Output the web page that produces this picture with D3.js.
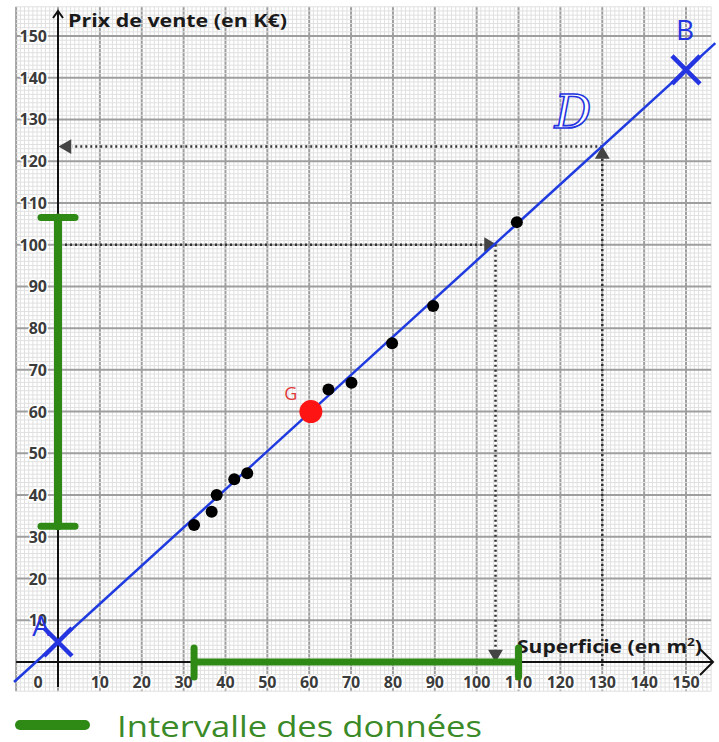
<!DOCTYPE html>
<html lang="fr">
  <head>
    <meta charset="UTF-8" />
    <title>Prix de vente en fonction de la superficie</title>
    <script src="https://d3js.org/d3.v7.min.js"></script>
    <style>
      body {
        margin: 0;
        background: #fff;
        font-family: 'Open Sans', sans-serif;
      }
      .tick-label {
        font-size: 16px;
        font-weight: 700;
        fill: #3b3b3b;
        stroke: #fff;
        stroke-width: 3px;
        paint-order: stroke;
      }
      .axis-title {
        font-size: 17px;
        font-weight: 700;
        fill: #1a1a1a;
      }
      .dotted {
        stroke: #333;
        stroke-width: 2.5px;
        stroke-dasharray: 2, 3;
        fill: none;
      }
    </style>
  </head>
  <body>
    <svg width="719" height="742"></svg>
    <script>
      // nuage de points (superficie en m2, prix en K€)
      const superficie = [32.5, 36.7, 37.9, 42.1, 45.2, 64.6, 70.1, 79.8, 89.6, 109.6];
      const prix = [32.8, 36.0, 40.0, 43.8, 45.2, 65.3, 66.9, 76.4, 85.3, 105.4];

      const pointG = [60.4, 60];
      const pointA = [0, 4.8];
      const pointB = [150, 141.9];

      // intervalles des données
      const intervalX = [32.5, 110];
      const intervalY = [32.5, 106.5];

      // lectures graphiques
      const lecture1 = [104.5, 100]; // prix 100 -> superficie
      const lecture2 = [130, 123.5]; // superficie 130 -> prix

      const ticks = d3.range(10, 151, 10);

      const svg = d3.select('svg');
      const x = d3.scaleLinear().domain([0, 150]).range([58, 686]);
      const y = d3.scaleLinear().domain([0, 150]).range([662, 36]);

      const gridX = [-10, 156];
      const gridY = [-7, 157];

      // quadrillage
      const grid = svg.append('g');
      grid.selectAll('.minx')
        .data(d3.range(gridX[0], gridX[1] + 1, 1))
        .join('line')
        .attr('x1', (d) => x(d)).attr('x2', (d) => x(d))
        .attr('y1', y(gridY[0])).attr('y2', y(gridY[1]))
        .attr('stroke', (d) => (d % 10 === 0 ? '#9e9e9e' : '#e0e0e0'))
        .attr('stroke-width', (d) => (d % 10 === 0 ? 2 : 1));
      grid.selectAll('.miny')
        .data(d3.range(gridY[0], gridY[1] + 1, 1))
        .join('line')
        .attr('y1', (d) => y(d)).attr('y2', (d) => y(d))
        .attr('x1', x(gridX[0])).attr('x2', x(gridX[1]))
        .attr('stroke', (d) => (d % 10 === 0 ? '#9e9e9e' : '#e0e0e0'))
        .attr('stroke-width', (d) => (d % 10 === 0 ? 2 : 1));

      // axes
      const ax = svg.append('g').attr('stroke', '#111').attr('stroke-width', 2).attr('fill', 'none');
      ax.append('line').attr('x1', x(-10)).attr('x2', 713).attr('y1', y(0)).attr('y2', y(0));
      ax.append('path').attr('d', `M700,${y(0) - 13}L713,${y(0)}L700,${y(0) + 13}`);
      ax.append('line').attr('x1', x(0)).attr('x2', x(0)).attr('y1', y(-6)).attr('y2', 12);
      ax.append('path').attr('d', `M${x(0) - 5},18L${x(0)},11L${x(0) + 5},18`);

      // graduations
      svg.append('g').selectAll('text')
        .data(ticks)
        .join('text')
        .attr('class', 'tick-label')
        .attr('x', (d) => x(d))
        .attr('y', 688)
        .attr('text-anchor', 'middle')
        .text((d) => d);
      svg.append('g').selectAll('text')
        .data(ticks)
        .join('text')
        .attr('class', 'tick-label')
        .attr('x', 47)
        .attr('y', (d) => y(d) + 6)
        .attr('text-anchor', 'end')
        .text((d) => d);
      svg.append('text').attr('class', 'tick-label')
        .attr('x', 38).attr('y', 688).attr('text-anchor', 'middle').text('0');

      svg.append('text').attr('class', 'axis-title')
        .attr('x', 68).attr('y', 27)
        .attr('font-size', 18)
        .attr('textLength', 219).attr('lengthAdjust', 'spacingAndGlyphs')
        .text('Prix de vente (en K€)');
      const sup = svg.append('text').attr('class', 'axis-title')
        .attr('x', 517).attr('y', 653)
        .attr('textLength', 185).attr('lengthAdjust', 'spacingAndGlyphs');
      sup.append('tspan').text('Superficie (en m');
      sup.append('tspan').attr('dy', -7).attr('font-size', 11).text('2');
      sup.append('tspan').attr('dy', 7).text(')');

      // lectures en pointillés
      const tri = d3.symbol().type(d3.symbolTriangle).size(95);
      const lec = svg.append('g');
      lec.append('line').attr('class', 'dotted')
        .attr('x1', x(0) + 2).attr('x2', x(lecture1[0]) - 12)
        .attr('y1', y(lecture1[1])).attr('y2', y(lecture1[1]));
      lec.append('path').attr('d', tri).attr('fill', '#444')
        .attr('transform', `translate(${x(lecture1[0]) - 7},${y(lecture1[1])}) rotate(90)`);
      lec.append('line').attr('class', 'dotted')
        .attr('x1', x(lecture1[0])).attr('x2', x(lecture1[0]))
        .attr('y1', y(lecture1[1])).attr('y2', y(0) - 12);
      lec.append('path').attr('d', tri).attr('fill', '#444')
        .attr('transform', `translate(${x(lecture1[0])},${y(0) - 8}) rotate(180)`);

      lec.append('line').attr('class', 'dotted')
        .attr('x1', x(lecture2[0])).attr('x2', x(lecture2[0]))
        .attr('y1', y(0) + 4).attr('y2', y(lecture2[1]) + 12);
      lec.append('path').attr('d', tri).attr('fill', '#444')
        .attr('transform', `translate(${x(lecture2[0])},${y(lecture2[1]) + 8})`);
      lec.append('line').attr('class', 'dotted')
        .attr('x1', x(lecture2[0])).attr('x2', x(0) + 14)
        .attr('y1', y(lecture2[1])).attr('y2', y(lecture2[1]));
      lec.append('path').attr('d', tri).attr('fill', '#444')
        .attr('transform', `translate(${x(0) + 9},${y(lecture2[1])}) rotate(-90)`);

      // intervalles des données (vert)
      const green = '#2e8a14';
      const iv = svg.append('g').attr('stroke', green).attr('stroke-linecap', 'round');
      iv.append('line').attr('stroke-width', 8)
        .attr('x1', x(0)).attr('x2', x(0))
        .attr('y1', y(intervalY[0])).attr('y2', y(intervalY[1]));
      intervalY.forEach((v) => {
        iv.append('line').attr('stroke-width', 7)
          .attr('x1', x(0) - 17).attr('x2', x(0) + 17)
          .attr('y1', y(v)).attr('y2', y(v));
      });
      iv.append('line').attr('stroke-width', 7)
        .attr('x1', x(intervalX[0])).attr('x2', x(intervalX[1]))
        .attr('y1', y(0)).attr('y2', y(0));
      intervalX.forEach((v) => {
        iv.append('line').attr('stroke-width', 7)
          .attr('x1', x(v)).attr('x2', x(v))
          .attr('y1', y(0) - 14).attr('y2', y(0) + 15);
      });

      // droite D passant par A et B
      const slope = (pointB[1] - pointA[1]) / (pointB[0] - pointA[0]);
      const lineEnds = [-10.5, 157].map((v) => [v, pointA[1] + slope * v]);
      svg.append('line')
        .attr('x1', x(lineEnds[0][0])).attr('y1', y(lineEnds[0][1]))
        .attr('x2', x(lineEnds[1][0])).attr('y2', y(lineEnds[1][1]))
        .attr('stroke', '#1f3be0').attr('stroke-width', 2.5);

      // nuage de points
      svg.append('g').selectAll('circle')
        .data(superficie.map((s, i) => [s, prix[i]]))
        .join('circle')
        .attr('cx', (d) => x(d[0]))
        .attr('cy', (d) => y(d[1]))
        .attr('r', 6)
        .attr('fill', '#000');

      // point moyen G
      svg.append('circle')
        .attr('cx', x(pointG[0])).attr('cy', y(pointG[1]))
        .attr('r', 11.5).attr('fill', '#ff1414');
      svg.append('text')
        .attr('x', x(pointG[0]) - 20).attr('y', y(pointG[1]) - 12)
        .attr('text-anchor', 'middle')
        .attr('font-size', 18).attr('fill', '#e03a3a')
        .text('G');

      // points A et B
      const blue = '#2434e0';
      [pointA, pointB].forEach((p) => {
        const cx = x(p[0]);
        const cy = y(p[1]);
        svg.append('path')
          .attr('d', `M${cx - 14},${cy - 14}L${cx + 14},${cy + 14}M${cx - 14},${cy + 14}L${cx + 14},${cy - 14}`)
          .attr('stroke', blue).attr('stroke-width', 4.5).attr('fill', 'none');
      });
      svg.append('text')
        .attr('x', 41).attr('y', 636).attr('text-anchor', 'middle')
        .attr('font-size', 28).attr('fill', blue).text('A');
      svg.append('text')
        .attr('x', 685).attr('y', 40).attr('text-anchor', 'middle')
        .attr('font-size', 28).attr('fill', blue).text('B');
      svg.append('text')
        .attr('x', 573).attr('y', 128).attr('text-anchor', 'middle')
        .attr('font-family', 'DejaVu Serif').attr('font-style', 'italic')
        .attr('font-size', 46).attr('fill', '#fff')
        .attr('stroke', blue).attr('stroke-width', 1.6)
        .text('D');

      // légende
      svg.append('line')
        .attr('x1', 20).attr('x2', 85).attr('y1', 725).attr('y2', 725)
        .attr('stroke', green).attr('stroke-width', 10).attr('stroke-linecap', 'round');
      svg.append('text')
        .attr('x', 117).attr('y', 737)
        .attr('font-size', 30).attr('fill', '#3a8a28')
        .attr('textLength', 365).attr('lengthAdjust', 'spacingAndGlyphs')
        .text('Intervalle des données');
    </script>
  </body>
</html>
